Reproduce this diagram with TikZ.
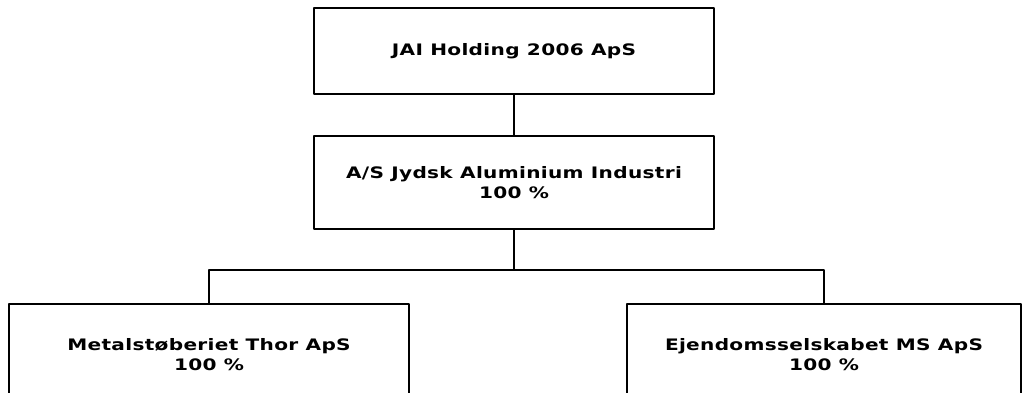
\documentclass[tikz,border=0pt]{standalone}
\usepackage{fontspec}
\newfontfamily\orgfont{DejaVu Sans}[FakeStretch=1.27, LetterSpace=2]
\usetikzlibrary{positioning, calc}

\begin{document}
\begin{tikzpicture}[line cap=round, line join=round,
    company/.style={draw, line width=1.1pt, minimum width=8cm, align=center,
      font=\orgfont\bfseries\fontsize{9}{11.4}\selectfont},
    owner/.style={line width=1.1pt}]
      % Rammen (billedet er skaaret af forneden)
      \useasboundingbox (0,0) rectangle (20.48,-7.86);
      \clip (0,0) rectangle (20.48,-7.86);

      % Moderselskab
      \node[company, minimum height=1.72cm] (holding) at (10.28,-1.02) {JAI Holding 2006 ApS};

      % Datterselskab
      \node[company, minimum height=1.86cm] (jai) at (10.28,-3.65) {A/S Jydsk Aluminium Industri\\100 \%};

      % Datterdatterselskaber
      \node[company, minimum height=2.04cm] (thor) at (4.18,-7.1) {Metalstøberiet Thor ApS\\100 \%};
      \node[company, minimum height=2.04cm, minimum width=7.88cm] (ms) at (16.48,-7.1) {Ejendomsselskabet MS ApS\\100 \%};

      % Ejerforhold
      \coordinate (split) at (10.28,-5.4);
      \draw[owner] (holding.south) -- (jai.north);
      \draw[owner] (jai.south) -- (split);
      \draw[owner] (split) -| (thor.north);
      \draw[owner] (split) -| (ms.north);
    \end{tikzpicture}
\end{document}
